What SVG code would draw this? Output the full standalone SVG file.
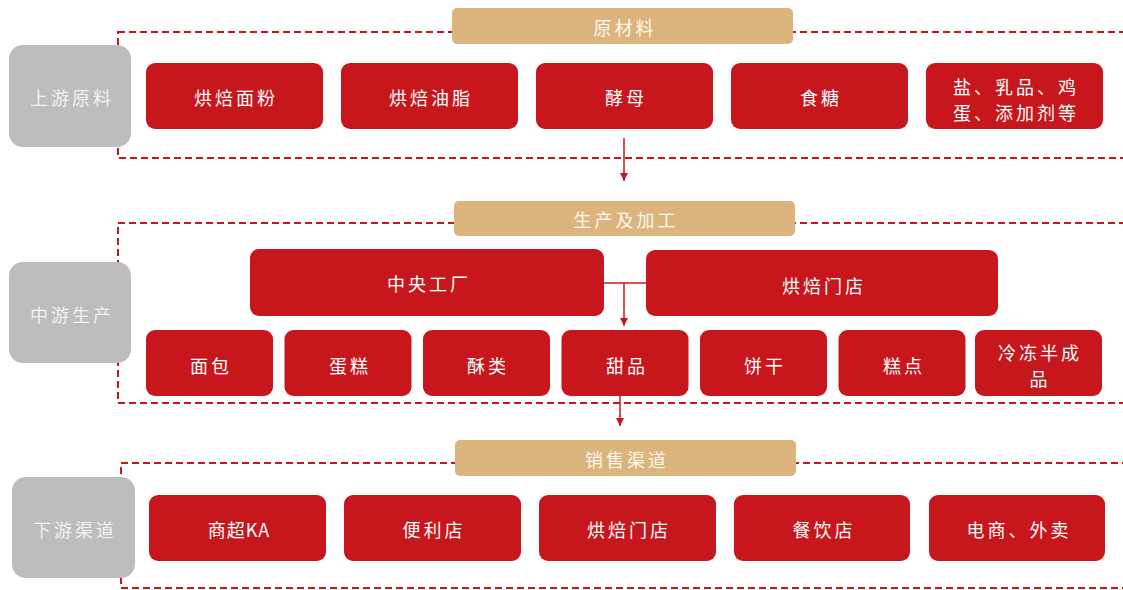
<svg xmlns="http://www.w3.org/2000/svg" width="1123" height="590" viewBox="0 0 1123 590">
<defs>
<marker id="ah" viewBox="0 0 10 10" refX="10" refY="5" markerWidth="8" markerHeight="8" markerUnits="userSpaceOnUse" orient="auto"><path d="M0,0 L10,5 L0,10 Z" fill="#C8161D"/></marker>
<style>
.frame{fill:none;stroke:#C8161D;stroke-width:2;stroke-dasharray:7 4}
.red{fill:#C8161D}
.tan{fill:#DBB47E}
.grey{fill:#BDBDBD}
text{font-family:"Noto Sans CJK SC","Noto Sans",sans-serif;font-size:18px;text-anchor:middle;dominant-baseline:central;letter-spacing:3px}
.w{fill:#FFFFFF}
.c{fill:#FFF8EC}
.g{fill:#F2F2F2}
.conn{stroke:#C8161D;stroke-width:1.5;fill:none}
</style>
</defs>
<rect width="1123" height="590" fill="#FFFFFF"/>

<g id="frames">
<rect class="frame" x="118" y="32" width="1030" height="126"/>
<rect class="frame" x="118" y="223" width="1030" height="180"/>
<rect class="frame" x="121" y="463" width="1030" height="125"/>
</g>

<g id="connectors">
<line class="conn" x1="624" y1="138" x2="624" y2="181" marker-end="url(#ah)"/>
<line class="conn" x1="604" y1="283" x2="646" y2="283"/>
<line class="conn" x1="624" y1="283" x2="624" y2="326" marker-end="url(#ah)"/>
<line class="conn" x1="620" y1="396" x2="620" y2="426" marker-end="url(#ah)"/>
</g>

<!-- Section 1 -->
<g id="hdr1"><rect class="tan" x="452" y="8" width="341" height="36" rx="5"/><text class="c" x="625" y="27">原材料</text></g>
<g id="lbl1"><rect class="grey" x="9" y="45" width="122" height="102" rx="14"/><text class="g" x="72" y="97">上游原料</text></g>
<g id="n_flour"><rect class="red" x="146" y="63" width="177" height="66" rx="9"/><text class="w" x="236" y="97">烘焙面粉</text></g>
<g id="n_oil"><rect class="red" x="341" y="63" width="177" height="66" rx="9"/><text class="w" x="431" y="97">烘焙油脂</text></g>
<g id="n_yeast"><rect class="red" x="536" y="63" width="177" height="66" rx="9"/><text class="w" x="626" y="97">酵母</text></g>
<g id="n_sugar"><rect class="red" x="731" y="63" width="177" height="66" rx="9"/><text class="w" x="821" y="97">食糖</text></g>
<g id="n_other"><rect class="red" x="926" y="63" width="177" height="66" rx="9"/><text class="w" x="1016" y="86">盐、乳品、鸡</text><text class="w" x="1016" y="112">蛋、添加剂等</text></g>

<!-- Section 2 -->
<g id="hdr2"><rect class="tan" x="454" y="201" width="341" height="35" rx="5"/><text class="c" x="626" y="219">生产及加工</text></g>
<g id="lbl2"><rect class="grey" x="9" y="262" width="122" height="101" rx="14"/><text class="g" x="72" y="314">中游生产</text></g>
<g id="n_factory"><rect class="red" x="250" y="249" width="354" height="67" rx="9"/><text class="w" x="429" y="283">中央工厂</text></g>
<g id="n_store"><rect class="red" x="646" y="250" width="352" height="66" rx="9"/><text class="w" x="824" y="285">烘焙门店</text></g>
<g id="n_bread"><rect class="red" x="146" y="330" width="127" height="66" rx="9"/><text class="w" x="211" y="365">面包</text></g>
<g id="n_cake"><rect class="red" x="284.5" y="330" width="127" height="66" rx="9"/><text class="w" x="350" y="365">蛋糕</text></g>
<g id="n_pastry"><rect class="red" x="423" y="330" width="127" height="66" rx="9"/><text class="w" x="488" y="365">酥类</text></g>
<g id="n_dessert"><rect class="red" x="561.5" y="330" width="127" height="66" rx="9"/><text class="w" x="627" y="365">甜品</text></g>
<g id="n_biscuit"><rect class="red" x="700" y="330" width="127" height="66" rx="9"/><text class="w" x="765" y="365">饼干</text></g>
<g id="n_snack"><rect class="red" x="838.5" y="330" width="127" height="66" rx="9"/><text class="w" x="904" y="365">糕点</text></g>
<g id="n_frozen"><rect class="red" x="975" y="330" width="127" height="66" rx="9"/><text class="w" x="1040" y="352">冷冻半成</text><text class="w" x="1040" y="378">品</text></g>

<!-- Section 3 -->
<g id="hdr3"><rect class="tan" x="455" y="440" width="341" height="36" rx="5"/><text class="c" x="627" y="459">销售渠道</text></g>
<g id="lbl3"><rect class="grey" x="12" y="477" width="123" height="101" rx="14"/><text class="g" x="75" y="529">下游渠道</text></g>
<g id="n_ka"><rect class="red" x="149" y="495" width="177" height="66" rx="9"/><text class="w" x="239" y="529" style="letter-spacing:1px">商超KA</text></g>
<g id="n_cvs"><rect class="red" x="344" y="495" width="177" height="66" rx="9"/><text class="w" x="434" y="529">便利店</text></g>
<g id="n_bakery"><rect class="red" x="539" y="495" width="177" height="66" rx="9"/><text class="w" x="629" y="529">烘焙门店</text></g>
<g id="n_rest"><rect class="red" x="734" y="495" width="176" height="66" rx="9"/><text class="w" x="824" y="529">餐饮店</text></g>
<g id="n_ec"><rect class="red" x="929" y="495" width="176" height="66" rx="9"/><text class="w" x="1019" y="529">电商、外卖</text></g>
</svg>
